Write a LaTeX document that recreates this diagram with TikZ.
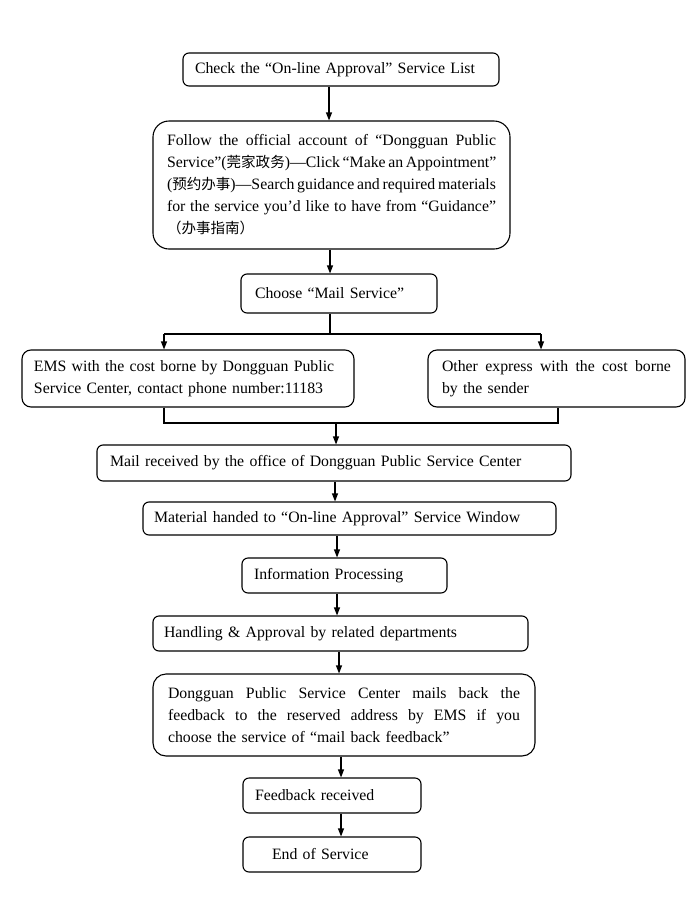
\documentclass[tikz,border=0pt]{standalone}
\usepackage{fontspec}
\setmainfont{Liberation Serif}
\newfontfamily\cjk[Scale=0.92]{Noto Sans CJK SC}
\usetikzlibrary{arrows.meta}
\newcommand\jline[2]{\leavevmode\hbox to #1{\spaceskip=0pt\xspaceskip=0pt #2}}
\begin{document}
\begin{tikzpicture}[x=1pt,y=-1pt,
  box/.style={draw, line width=1.1pt, rounded corners=6pt, inner ysep=0pt,
    font=\fontsize{15.8}{22}\selectfont, align=left},
  arr/.style={line width=1.1pt, -{Triangle[length=8pt,width=6pt]}},
  ln/.style={line width=1.1pt}]
\useasboundingbox[fill=white] (0,0) rectangle (700,916);
% boxes: center, width w, inset s => text width = w - 2s
\node[box, inner xsep=12pt, text width=292pt, minimum height=33pt] (b1) at (341,69.5)
  {Check the “On-line Approval” Service List};
\node[box, rounded corners=16pt, inner xsep=14pt, text width=329pt, minimum height=128pt] (b2) at (331.5,185)
  {\jline{329pt}{Follow the official account of “Dongguan Public}\\
   \jline{329pt}{Service”({\cjk 莞家政务})—Click “Make an Appointment”}\\
   \jline{329pt}{({\cjk 预约办事})—Search guidance and required materials}\\
   \jline{329pt}{for the service you’d like to have from “Guidance”}\\
   {\cjk （办事指南）}};
\node[box, inner xsep=14pt, text width=168pt, minimum height=39pt] (b3) at (339,293.5)
  {Choose “Mail Service”};
\node[box, rounded corners=9pt, inner xsep=12pt, text width=308pt, minimum height=57pt] (b4) at (188,378.5)
  {EMS with the cost borne by Dongguan Public\\Service Center, contact phone number:11183};
\node[box, rounded corners=9pt, inner xsep=14pt, text width=229pt, minimum height=57pt] (b5) at (556.5,378.5)
  {\jline{229pt}{Other express with the cost borne}\\by the sender};
\node[box, inner xsep=13pt, text width=448pt, minimum height=36pt] (b6) at (334,463)
  {Mail received by the office of Dongguan Public Service Center};
\node[box, inner xsep=11pt, text width=391pt, minimum height=33pt] (b7) at (349.5,518.5)
  {Material handed to “On-line Approval” Service Window};
\node[box, inner xsep=12pt, text width=181pt, minimum height=35pt] (b8) at (344.5,575.5)
  {Information Processing};
\node[box, inner xsep=11pt, text width=353pt, minimum height=35pt] (b9) at (340.5,633.5)
  {Handling \& Approval by related departments};
\node[box, rounded corners=13pt, inner xsep=15pt, text width=352pt, minimum height=82pt] (b10) at (344,715)
  {\jline{352pt}{Dongguan Public Service Center mails back the}\\
   \jline{352pt}{feedback to the reserved address by EMS if you}\\
   choose the service of “mail back feedback”};
\node[box, inner xsep=12pt, text width=154pt, minimum height=35pt] (b11) at (332,795.5)
  {Feedback received};
\node[box, inner xsep=29pt, text width=120pt, minimum height=35pt] (b12) at (332,854.5)
  {End of Service};
% arrow columns
\coordinate (x1) at (329,0);
\coordinate (x2) at (330,0);
\coordinate (x6) at (335,0);
\coordinate (x7) at (337,0);
\coordinate (x9) at (339,0);
\coordinate (x10) at (341,0);
\draw[arr] (b1.south -| x1) -- (b2.north -| x1);
\draw[arr] (b2.south -| x2) -- (b3.north -| x2);
% split
\coordinate (sM) at (330,334);
\coordinate (sL) at (164,334);
\coordinate (sR) at (541,334);
\draw[ln] (b3.south -| sM) -- (sM);
\draw[ln] (sL) -- (sR);
\draw[arr] (sL) -- (b4.north -| sL);
\draw[arr] (sR) -- (b5.north -| sR);
% merge
\coordinate (mL) at (164,423);
\coordinate (mR) at (558,423);
\coordinate (mM) at (336,423);
\draw[ln] (b4.south -| mL) -- (mL) -- (mR) -- (b5.south -| mR);
\draw[arr] (mM) -- (b6.north -| mM);
\draw[arr] (b6.south -| x6) -- (b7.north -| x6);
\draw[arr] (b7.south -| x7) -- (b8.north -| x7);
\draw[arr] (b8.south -| x7) -- (b9.north -| x7);
\draw[arr] (b9.south -| x9) -- (b10.north -| x9);
\draw[arr] (b10.south -| x10) -- (b11.north -| x10);
\draw[arr] (b11.south -| x10) -- (b12.north -| x10);
\end{tikzpicture}
\end{document}
